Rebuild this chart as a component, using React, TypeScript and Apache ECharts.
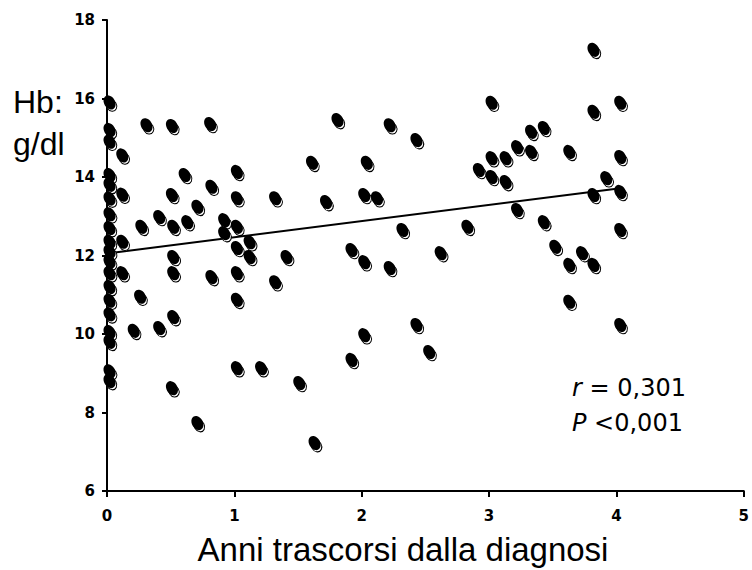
import React, { useEffect, useRef } from 'react';
import * as echarts from 'echarts';

// Years since diagnosis (x) and Hb g/dl (y)
const xYears: number[] = [
  0.02, 0.02, 0.02, 0.02, 0.02, 0.02, 0.02, 0.02, 0.02, 0.02,
  0.02, 0.02, 0.02, 0.02, 0.02, 0.02, 0.02, 0.02, 0.02,
  0.12, 0.12, 0.12, 0.12,
  0.31, 0.27, 0.26, 0.21, 0.41, 0.41, 0.51, 0.51, 0.52, 0.52,
  0.52, 0.52, 0.51, 0.61, 0.63, 0.71, 0.71, 0.82, 0.81, 0.82,
  0.92, 0.92, 1.02, 1.02, 1.02, 1.02, 1.02, 1.02, 1.02, 1.12,
  1.12, 1.21, 1.32, 1.32, 1.41, 1.51, 1.61, 1.63, 1.72, 1.81,
  1.92, 1.92, 2.02, 2.02, 2.02, 2.04, 2.12, 2.22, 2.22, 2.32,
  2.43, 2.43, 2.53, 2.62, 2.83, 2.92, 3.02, 3.02, 3.02, 3.13,
  3.13, 3.22, 3.22, 3.33, 3.33, 3.43, 3.43, 3.52, 3.63, 3.63,
  3.63, 3.73, 3.82, 3.82, 3.82, 3.82, 3.92, 4.03, 4.03, 4.03,
  4.03, 4.03,
];
const hbValues: number[] = [
  15.9, 15.2, 14.9, 14.05, 13.8, 13.45, 13.05, 12.7, 12.35, 12.1,
  11.85, 11.55, 11.2, 10.85, 10.5, 10.05, 9.8, 9.05, 8.8,
  14.55, 13.55, 12.35, 11.55,
  15.32, 12.73, 10.95, 10.08, 12.98, 10.15, 15.3, 13.54, 12.73, 11.96,
  11.55, 10.43, 8.62, 14.05, 12.85, 13.24, 7.73, 13.75, 15.35, 11.45,
  12.9, 12.57, 14.13, 13.46, 12.73, 12.19, 11.55, 10.87, 9.13, 12.34,
  11.96, 9.13, 13.46, 11.32, 11.96, 8.75, 14.36, 7.22, 13.36, 15.45,
  12.14, 9.34, 13.54, 11.83, 9.97, 14.36, 13.46, 15.32, 11.68, 12.65,
  14.94, 10.23, 9.54, 12.06, 12.73, 14.18, 15.89, 14.48, 14.0, 14.48,
  13.87, 14.76, 13.16, 15.15, 14.64, 15.25, 12.85, 12.22, 14.64, 11.76,
  10.82, 12.06, 17.24, 15.66, 13.54, 11.76, 13.97, 15.89, 14.51, 13.62,
  12.65, 10.23,
];

// Regression line end points
const trendX: number[] = [0, 4];
const trendY: number[] = [12.05, 13.7];

const xTitle = 'Anni trascorsi dalla diagnosi';
const yTitleLines: string[] = ['Hb:', 'g/dl'];
const statR = '0,301';
const statP = '0,001';

export default function App() {
  const ref = useRef<HTMLDivElement>(null);
  useEffect(() => {
    if (!ref.current) return;
    const chart = echarts.init(ref.current, undefined, { renderer: 'svg' });
    const points = xYears.map((x, i) => [x, hbValues[i]]);
    const trend = trendX.map((x, i) => [x, trendY[i]]);
    const tickFont = {
      color: '#000',
      fontFamily: 'DejaVu Sans',
      fontWeight: 'bold' as const,
      fontSize: 15,
    };
    chart.setOption({
      animation: false,
      backgroundColor: '#fff',
      grid: { left: 107, right: 6, top: 20, bottom: 79, containLabel: false },
      xAxis: {
        type: 'value',
        min: 0,
        max: 5,
        interval: 1,
        axisLine: { show: true, onZero: false, lineStyle: { color: '#000', width: 2 } },
        axisTick: { show: true, length: 6, lineStyle: { color: '#000', width: 2 } },
        splitLine: { show: false },
        axisLabel: { ...tickFont, margin: 17 },
      },
      yAxis: {
        type: 'value',
        min: 6,
        max: 18,
        interval: 2,
        axisLine: { show: true, onZero: false, lineStyle: { color: '#000', width: 2 } },
        axisTick: { show: true, length: 5, lineStyle: { color: '#000', width: 2 } },
        splitLine: { show: false },
        axisLabel: { ...tickFont, margin: 12 },
      },
      series: [
        {
          type: 'line',
          data: trend,
          symbol: 'none',
          silent: true,
          lineStyle: { color: '#000', width: 2 },
          z: 1,
        },
        {
          type: 'scatter',
          data: points,
          symbol: 'circle',
          symbolSize: [10, 12],
          symbolOffset: [2, 3],
          symbolRotate: 30,
          silent: true,
          itemStyle: { color: '#fff', borderColor: '#000', borderWidth: 1, opacity: 1 },
          z: 2,
        },
        {
          type: 'scatter',
          data: points,
          symbol: 'circle',
          symbolSize: [11, 15],
          symbolRotate: 30,
          silent: true,
          itemStyle: { color: '#000', opacity: 1 },
          z: 3,
        },
      ],
      graphic: [
        {
          type: 'text',
          x: 13,
          y: 102,
          style: {
            text: yTitleLines[0],
            font: '32px "Liberation Sans", Arial, sans-serif',
            fill: '#000',
            textAlign: 'left',
            textVerticalAlign: 'middle',
          },
        },
        {
          type: 'text',
          x: 13,
          y: 144,
          style: {
            text: yTitleLines[1],
            font: '32px "Liberation Sans", Arial, sans-serif',
            fill: '#000',
            textAlign: 'left',
            textVerticalAlign: 'middle',
          },
        },
        {
          type: 'text',
          x: 403,
          y: 549,
          style: {
            text: xTitle,
            font: '33px "Liberation Sans", Arial, sans-serif',
            fill: '#000',
            textAlign: 'center',
            textVerticalAlign: 'middle',
          },
        },
        {
          type: 'text',
          x: 572,
          y: 388,
          style: {
            text: '{i|r} = ' + statR,
            font: '24px "DejaVu Sans", sans-serif',
            fill: '#000',
            textAlign: 'left',
            textVerticalAlign: 'middle',
            rich: {
              i: { fontStyle: 'italic', fontSize: 24, fontFamily: 'DejaVu Sans', fill: '#000' },
            },
          },
        },
        {
          type: 'text',
          x: 572,
          y: 423,
          style: {
            text: '{i|P} <' + statP,
            font: '24px "DejaVu Sans", sans-serif',
            fill: '#000',
            textAlign: 'left',
            textVerticalAlign: 'middle',
            rich: {
              i: { fontStyle: 'italic', fontSize: 24, fontFamily: 'DejaVu Sans', fill: '#000' },
            },
          },
        },
      ],
    });
    return () => chart.dispose();
  }, []);
  return (
    <div
      ref={ref}
      style={{ position: 'absolute', left: 0, top: 0, width: 752, height: 570 }}
    />
  );
}
